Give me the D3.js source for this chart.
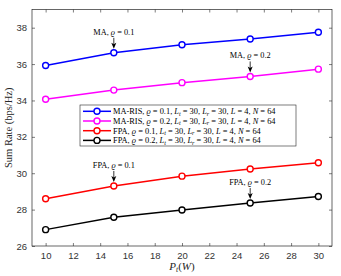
<!DOCTYPE html>
<html><head><meta charset="utf-8">
<script src="https://cdn.jsdelivr.net/npm/d3@7/dist/d3.min.js"></script>
<style>body{margin:0;background:#fff}svg{display:block}</style>
</head><body>
<svg id="c" width="341" height="276"></svg>
<script>
const power = [10, 15, 20, 25, 30];
const maRis01 = [35.92, 36.62, 37.06, 37.38, 37.75];
const maRis02 = [34.07, 34.57, 34.98, 35.32, 35.72];
const fpa01 = [28.6, 29.3, 29.84, 30.23, 30.58];
const fpa02 = [26.9, 27.58, 27.98, 28.36, 28.72];
const xTicks = [10, 12, 14, 16, 18, 20, 22, 24, 26, 28, 30];
const yTicks = [26, 28, 30, 32, 34, 36, 38];
const seriesNames = [
  ["MA-RIS", "0.1"], ["MA-RIS", "0.2"], ["FPA", "0.1"], ["FPA", "0.2"]
];
const seriesColors = ["#0000ff", "#ff00ff", "#ff0000", "#000000"];
const annotations = [
  {s: 0, i: 1, label: "MA", rho: "0.1"},
  {s: 1, i: 3, label: "MA", rho: "0.2"},
  {s: 2, i: 1, label: "FPA", rho: "0.1"},
  {s: 3, i: 3, label: "FPA", rho: "0.2"}
];
const allSeries = [maRis01, maRis02, fpa01, fpa02];

const svg = d3.select("#c");
const L = 32, T = 9.5, R = 332, B = 246;
const x = d3.scaleLinear().domain([9, 31]).range([L, R]);
const y = d3.scaleLinear().domain([26, 39]).range([B, T]);
const axisCol = "#262626";
const serif = "'Liberation Serif', 'DejaVu Serif', serif";

svg.append("rect").attr("x", L).attr("y", T).attr("width", R - L).attr("height", B - T)
  .attr("fill", "#fff");

const tickFont = "'Liberation Sans', Arial, sans-serif";
function styleAxis(g, noText) {
  g.select(".domain").remove();
  g.selectAll("line").attr("stroke", axisCol).attr("stroke-width", 0.6);
  g.selectAll("text").attr("fill", "#333").style("font-family", tickFont).style("font-size", "9.5px");
  if (noText) g.selectAll("text").remove();
}
svg.append("g").attr("transform", `translate(0,${B})`)
  .call(d3.axisBottom(x).tickValues(xTicks).tickSizeInner(-3).tickSizeOuter(0).tickPadding(6))
  .call(g => styleAxis(g));
svg.append("g").attr("transform", `translate(0,${T})`)
  .call(d3.axisTop(x).tickValues(xTicks).tickSizeInner(-3).tickSizeOuter(0))
  .call(g => styleAxis(g, true));
svg.append("g").attr("transform", `translate(${L},0)`)
  .call(d3.axisLeft(y).tickValues(yTicks).tickSizeInner(-3).tickSizeOuter(0).tickPadding(5))
  .call(g => styleAxis(g));
svg.append("g").attr("transform", `translate(${R},0)`)
  .call(d3.axisRight(y).tickValues(yTicks).tickSizeInner(-3).tickSizeOuter(0))
  .call(g => styleAxis(g, true));
svg.append("rect").attr("x", L).attr("y", T).attr("width", R - L).attr("height", B - T)
  .attr("fill", "none").attr("stroke", axisCol).attr("stroke-width", 0.7);

const line = d3.line().x((d, i) => x(power[i])).y(d => y(d));
allSeries.forEach((s, k) => {
  svg.append("path").datum(s).attr("d", line).attr("fill", "none")
    .attr("stroke", seriesColors[k]).attr("stroke-width", 1.5);
  svg.selectAll(null).data(s).enter().append("circle")
    .attr("cx", (d, i) => x(power[i])).attr("cy", d => y(d)).attr("r", 3)
    .attr("fill", "#fff").attr("stroke", seriesColors[k]).attr("stroke-width", 1.4);
});

// annotations
annotations.forEach(a => {
  const px = x(power[a.i]), py = y(allSeries[a.s][a.i]);
  const tip = py - 4, tail = py - 15;
  svg.append("line").attr("x1", px).attr("x2", px).attr("y1", tail).attr("y2", tip - 4)
    .attr("stroke", "#000").attr("stroke-width", 0.8);
  svg.append("path").attr("d", `M${px - 2.5},${tip - 6} L${px},${tip} L${px + 2.5},${tip - 6} L${px},${tip - 4.5} Z`)
    .attr("fill", "#000");
  const t = svg.append("text").attr("x", px).attr("y", tail - 3).attr("text-anchor", "middle")
    .style("font-family", serif).style("font-size", "8.3px").attr("fill", "#000");
  t.append("tspan").text(a.label + ", ");
  t.append("tspan").style("font-style", "italic").text("ϱ");
  t.append("tspan").text(" = " + a.rho);
});

// legend
const lgX = 80, lgY = 105, lgW = 216, lgH = 41;
svg.append("rect").attr("x", lgX).attr("y", lgY).attr("width", lgW).attr("height", lgH)
  .attr("fill", "#fff").attr("stroke", axisCol).attr("stroke-width", 0.6);
seriesNames.forEach((n, k) => {
  const ry = lgY + 6.3 + k * 9.7;
  svg.append("line").attr("x1", lgX + 3).attr("x2", lgX + 31).attr("y1", ry).attr("y2", ry)
    .attr("stroke", seriesColors[k]).attr("stroke-width", 1.5);
  svg.append("circle").attr("cx", lgX + 17).attr("cy", ry).attr("r", 3)
    .attr("fill", "#fff").attr("stroke", seriesColors[k]).attr("stroke-width", 1.4);
  const t = svg.append("text").attr("x", lgX + 33).attr("y", ry + 2.8)
    .style("font-family", serif).style("font-size", "8.4px").attr("fill", "#000");
  t.append("tspan").text(n[0] + ", ");
  t.append("tspan").style("font-style", "italic").text("ϱ");
  t.append("tspan").text(" = " + n[1] + ", ");
  t.append("tspan").style("font-style", "italic").text("L");
  t.append("tspan").attr("dy", 1.5).style("font-size", "6px").style("font-style", "italic").text("t");
  t.append("tspan").attr("dy", -1.5).text(" = 30, ");
  t.append("tspan").style("font-style", "italic").text("L");
  t.append("tspan").attr("dy", 1.5).style("font-size", "6px").style("font-style", "italic").text("r");
  t.append("tspan").attr("dy", -1.5).text(" = 30, ");
  t.append("tspan").style("font-style", "italic").text("L");
  t.append("tspan").text(" = 4, ");
  t.append("tspan").style("font-style", "italic").text("N");
  t.append("tspan").text(" = 64");
});

// axis labels
const xl = svg.append("text").attr("x", (L + R) / 2).attr("y", 270).attr("text-anchor", "middle")
  .style("font-family", serif).style("font-size", "11px").attr("fill", axisCol);
xl.append("tspan").style("font-style", "italic").text("P");
xl.append("tspan").attr("dy", 2).style("font-size", "7.5px").style("font-style", "italic").text("t");
xl.append("tspan").attr("dy", -2).text("(");
xl.append("tspan").style("font-style", "italic").text("W");
xl.append("tspan").text(")");

svg.append("text").attr("transform", `translate(12,${(T + B) / 2}) rotate(-90)`)
  .attr("text-anchor", "middle").style("font-family", serif).style("font-size", "10.5px")
  .attr("fill", axisCol).text("Sum Rate (bps/Hz)");
</script>
</body></html>
